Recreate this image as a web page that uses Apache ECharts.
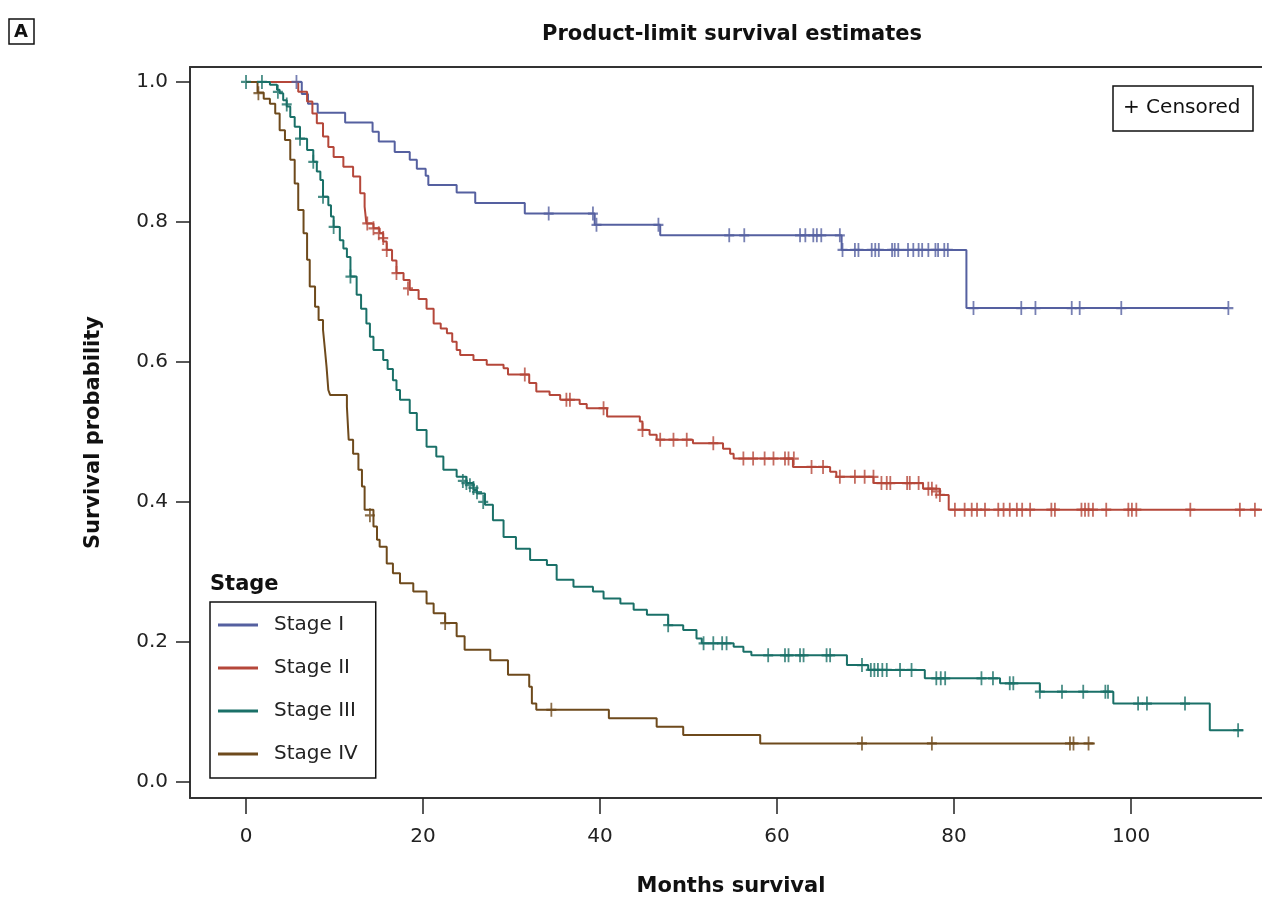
<!DOCTYPE html>
<html>
<head>
<meta charset="utf-8">
<script src="https://cdn.jsdelivr.net/npm/echarts@6/dist/echarts.min.js"></script>
<style>
  html, body { margin: 0; padding: 0; background: #fff; }
  #chart { width: 1262px; height: 897px; }
</style>
</head>
<body>
<div id="chart"></div>
<script>
// step points: [months, survival after the drop]
const stageNames = ['Stage I', 'Stage II', 'Stage III', 'Stage IV'];
const stageColors = ['#5560a0', '#b5473a', '#1a7068', '#6e4a1c'];

const stage1Steps = [[0, 1.0], [6.3, 0.983], [7.0, 0.969], [8.1, 0.956], [11.2, 0.942], [14.3, 0.929], [15.0, 0.915],
  [16.8, 0.900], [18.5, 0.889], [19.3, 0.876], [20.3, 0.866], [20.6, 0.853], [23.8, 0.842], [25.9, 0.827],
  [31.5, 0.812], [39.4, 0.796], [46.8, 0.781], [67.3, 0.760], [81.4, 0.677], [111.0, 0.677]];
const stage1Censored = [[5.7, 1.0], [34.2, 0.812], [39.2, 0.812], [39.6, 0.796], [46.6, 0.796], [54.6, 0.781],
  [56.3, 0.781], [62.6, 0.781], [63.2, 0.781], [64.1, 0.781], [64.5, 0.781], [65.0, 0.781], [67.1, 0.781],
  [67.4, 0.760], [68.8, 0.760], [69.2, 0.760], [70.7, 0.760], [71.1, 0.760], [71.5, 0.760], [73.0, 0.760],
  [73.3, 0.760], [73.7, 0.760], [74.8, 0.760], [75.4, 0.760], [76.0, 0.760], [76.4, 0.760], [77.1, 0.760],
  [77.9, 0.760], [78.2, 0.760], [78.9, 0.760], [79.3, 0.760], [82.2, 0.677], [87.6, 0.677], [89.2, 0.677],
  [93.3, 0.677], [94.2, 0.677], [98.9, 0.677], [111.0, 0.677]];

const stage2Steps = [[0, 1.0], [5.9, 0.986], [6.9, 0.972], [7.5, 0.955], [8.0, 0.941], [8.7, 0.922], [9.3, 0.907],
  [9.9, 0.893], [11.0, 0.879], [12.1, 0.865], [12.9, 0.841], [13.4, 0.822], [13.6, 0.798], [14.4, 0.791],
  [15.1, 0.784], [15.5, 0.772], [15.9, 0.760], [16.5, 0.745], [17.0, 0.727], [17.8, 0.717], [18.5, 0.703],
  [19.5, 0.690], [20.4, 0.676], [21.2, 0.655], [22.0, 0.648], [22.7, 0.641], [23.3, 0.629], [23.8, 0.617],
  [24.2, 0.610], [25.7, 0.603], [27.2, 0.596], [29.1, 0.591], [29.6, 0.582], [32.0, 0.570], [32.8, 0.558],
  [34.3, 0.553], [35.5, 0.546], [37.7, 0.540], [38.5, 0.534], [40.8, 0.522], [44.5, 0.515], [44.8, 0.503],
  [45.6, 0.496], [46.4, 0.489], [50.5, 0.484], [53.9, 0.476], [54.7, 0.469], [55.1, 0.462], [61.8, 0.450],
  [66.0, 0.443], [66.7, 0.436], [70.9, 0.427], [76.5, 0.419], [78.4, 0.410], [79.4, 0.389], [114.8, 0.389]];
const stage2Censored = [[13.7, 0.798], [14.4, 0.791], [15.0, 0.784], [15.5, 0.777], [15.9, 0.760], [17.0, 0.727],
  [18.3, 0.705], [31.5, 0.582], [36.2, 0.546], [36.6, 0.546], [40.4, 0.534], [44.8, 0.503], [46.8, 0.489],
  [48.3, 0.489], [49.8, 0.489], [52.8, 0.484], [56.2, 0.462], [57.3, 0.462], [58.6, 0.462], [59.6, 0.462],
  [60.9, 0.462], [61.3, 0.462], [61.9, 0.462], [63.9, 0.450], [65.2, 0.450], [67.1, 0.436], [68.8, 0.436],
  [69.9, 0.436], [70.9, 0.436], [71.8, 0.427], [72.4, 0.427], [72.8, 0.427], [74.7, 0.427], [75.0, 0.427],
  [76.0, 0.427], [77.1, 0.419], [77.5, 0.419], [78.0, 0.415], [78.4, 0.410], [80.1, 0.389], [81.2, 0.389],
  [82.0, 0.389], [82.6, 0.389], [83.5, 0.389], [85.0, 0.389], [85.6, 0.389], [86.3, 0.389], [87.1, 0.389],
  [87.7, 0.389], [88.6, 0.389], [91.0, 0.389], [91.4, 0.389], [94.4, 0.389], [94.8, 0.389], [95.2, 0.389],
  [95.7, 0.389], [97.2, 0.389], [99.7, 0.389], [100.1, 0.389], [100.6, 0.389], [106.7, 0.389], [112.3, 0.389],
  [114.0, 0.389]];

const stage3Steps = [[0, 1.0], [2.7, 0.996], [3.5, 0.989], [3.8, 0.984], [4.2, 0.974], [4.6, 0.965], [5.0, 0.950],
  [5.5, 0.936], [6.1, 0.919], [6.9, 0.903], [7.6, 0.886], [8.0, 0.872], [8.4, 0.860], [8.7, 0.836], [9.3, 0.824],
  [9.6, 0.808], [9.9, 0.793], [10.6, 0.774], [11.0, 0.762], [11.4, 0.750], [11.8, 0.722], [12.5, 0.696],
  [13.0, 0.676], [13.6, 0.655], [14.0, 0.636], [14.4, 0.617], [15.5, 0.603], [16.0, 0.590], [16.6, 0.574],
  [17.0, 0.560], [17.4, 0.546], [18.5, 0.527], [19.3, 0.503], [20.4, 0.479], [21.5, 0.465], [22.3, 0.446],
  [23.8, 0.436], [24.9, 0.427], [25.7, 0.417], [26.1, 0.412], [27.0, 0.396], [27.9, 0.374], [29.1, 0.350],
  [30.5, 0.333], [32.1, 0.317], [34.0, 0.310], [35.1, 0.289], [37.0, 0.279], [39.2, 0.272], [40.4, 0.262],
  [42.3, 0.255], [43.8, 0.246], [45.3, 0.239], [47.7, 0.224], [49.4, 0.217], [50.9, 0.205], [51.5, 0.198],
  [55.1, 0.193], [56.2, 0.186], [57.1, 0.181], [67.9, 0.167], [70.3, 0.160], [76.7, 0.148], [85.2, 0.141],
  [89.7, 0.129], [98.0, 0.112], [108.9, 0.074], [112.7, 0.074]];
const stage3Censored = [[0, 1.0], [1.8, 1.0], [3.6, 0.986], [4.6, 0.968], [6.1, 0.919], [7.6, 0.886], [8.7, 0.836],
  [9.9, 0.793], [11.8, 0.722], [24.5, 0.430], [24.9, 0.427], [25.3, 0.424], [25.7, 0.420], [26.1, 0.414],
  [26.8, 0.400], [47.7, 0.224], [51.7, 0.198], [52.8, 0.198], [53.8, 0.198], [54.3, 0.198], [59.0, 0.181],
  [60.9, 0.181], [61.3, 0.181], [62.6, 0.181], [63.0, 0.181], [65.6, 0.181], [66.0, 0.181], [69.6, 0.167],
  [70.6, 0.160], [71.0, 0.160], [71.4, 0.160], [71.9, 0.160], [72.4, 0.160], [73.9, 0.160], [75.2, 0.160],
  [78.0, 0.148], [78.5, 0.148], [79.0, 0.148], [83.1, 0.148], [84.4, 0.148], [86.3, 0.141], [86.7, 0.141],
  [89.7, 0.129], [92.2, 0.129], [94.6, 0.129], [97.1, 0.129], [97.4, 0.129], [100.8, 0.112], [101.8, 0.112],
  [106.1, 0.112], [112.1, 0.074]];

const stage4Steps = [[0, 1.0], [1.3, 0.985], [2.0, 0.976], [2.7, 0.969], [3.3, 0.955], [3.8, 0.931], [4.4, 0.917],
  [5.0, 0.889], [5.5, 0.855], [5.9, 0.817], [6.5, 0.784], [6.9, 0.746], [7.2, 0.708], [7.8, 0.679], [8.2, 0.660],
  [8.7, 0.646], [8.9, 0.620], [9.1, 0.593], [9.3, 0.560], [9.5, 0.553], [11.4, 0.536], [11.6, 0.489],
  [12.1, 0.469], [12.7, 0.446], [13.1, 0.422], [13.4, 0.389], [14.4, 0.365], [14.8, 0.346], [15.1, 0.336],
  [15.9, 0.312], [16.6, 0.298], [17.4, 0.284], [18.9, 0.272], [20.4, 0.255], [21.2, 0.241], [22.5, 0.227],
  [23.8, 0.208], [24.7, 0.189], [27.6, 0.174], [29.6, 0.153], [32.0, 0.136], [32.3, 0.112], [32.8, 0.103],
  [41.0, 0.091], [46.4, 0.079], [49.4, 0.067], [58.1, 0.055], [95.9, 0.055]];
const stage4Censored = [[1.4, 0.984], [14.0, 0.381], [22.5, 0.227], [34.5, 0.103], [69.6, 0.055], [77.5, 0.055],
  [93.1, 0.055], [93.5, 0.055], [95.2, 0.055]];

const xTicks = [0, 20, 40, 60, 80, 100];
const yTicks = [0, 0.2, 0.4, 0.6, 0.8, 1.0];

const FONT = '"DejaVu Sans", Verdana, sans-serif';
const plusIcon = 'path://M4.1,0H5.9V4.2H10V5.8H5.9V10H4.1V5.8H0V4.2H4.1Z';
const frameLine = { show: true, onZero: false, lineStyle: { color: '#333', width: 2 } };

const steps = [stage1Steps, stage2Steps, stage3Steps, stage4Steps];
const censored = [stage1Censored, stage2Censored, stage3Censored, stage4Censored];

const series = [];
stageNames.forEach((name, i) => {
  series.push({
    name: name,
    type: 'line',
    step: 'end',
    data: steps[i],
    showSymbol: false,
    lineStyle: { color: stageColors[i], width: 2 },
    itemStyle: { color: stageColors[i] },
    animation: false,
    z: 2
  });
});
stageNames.forEach((name, i) => {
  series.push({
    name: name + ' censored',
    type: 'scatter',
    data: censored[i],
    symbol: plusIcon,
    symbolSize: [10, 14],
    itemStyle: { color: stageColors[i] },
    animation: false,
    z: 3
  });
});

const chart = echarts.init(document.getElementById('chart'));
chart.setOption({
  backgroundColor: '#fff',
  textStyle: { fontFamily: FONT },
  title: {
    text: 'Product-limit survival estimates',
    left: 537,
    top: 19,
    textStyle: { fontFamily: FONT, fontSize: 21, fontWeight: 'bold', color: '#111' }
  },
  grid: {
    left: 190,
    top: 67,
    right: 0,
    bottom: 99,
    show: false,
    containLabel: false,
    outerBoundsMode: 'none'
  },
  legend: {
    data: stageNames,
    orient: 'vertical',
    left: 210,
    top: 602,
    icon: 'rect',
    itemWidth: 40,
    itemHeight: 3,
    itemGap: 23,
    itemTextGap: 16,
    padding: [13, 18, 14, 8],
    borderColor: '#111',
    borderWidth: 1.5,
    textStyle: { fontFamily: FONT, fontSize: 20, color: '#222', padding: [0, 8, 0, 11] }
  },
  xAxis: [{
    type: 'value',
    min: -6.33,
    max: 114.8,
    name: 'Months survival',
    nameLocation: 'middle',
    nameGap: 78,
    nameTextStyle: { fontFamily: FONT, fontSize: 21, fontWeight: 'bold', color: '#111', padding: [0, 0, 0, 10] },
    axisLine: frameLine,
    axisTick: { show: true, length: 16, customValues: xTicks, lineStyle: { color: '#222', width: 1.5 } },
    axisLabel: { customValues: xTicks, margin: 29, fontSize: 20, color: '#222', fontFamily: FONT },
    splitLine: { show: false }
  }, {
    type: 'value',
    position: 'top',
    min: -6.33,
    max: 114.8,
    axisLine: frameLine,
    axisTick: { show: false },
    axisLabel: { show: false },
    splitLine: { show: false }
  }],
  yAxis: {
    type: 'value',
    min: -0.0229,
    max: 1.0214,
    name: 'Survival probability',
    nameLocation: 'middle',
    nameGap: 86,
    nameTextStyle: { fontFamily: FONT, fontSize: 21, fontWeight: 'bold', color: '#111' },
    axisLine: frameLine,
    axisTick: { show: true, length: 14, customValues: yTicks, lineStyle: { color: '#222', width: 1.5 } },
    axisLabel: {
      customValues: yTicks,
      margin: 22,
      fontSize: 20,
      color: '#222',
      fontFamily: FONT,
      formatter: v => v.toFixed(1)
    },
    splitLine: { show: false }
  },
  graphic: [
    {
      type: 'rect',
      shape: { x: 9, y: 19, width: 25, height: 25 },
      style: { fill: '#fff', stroke: '#111', lineWidth: 1.5 }
    },
    {
      type: 'text',
      left: 14,
      top: 23,
      style: { text: 'A', fontFamily: FONT, fontSize: 18, fontWeight: 'bold', fill: '#111' }
    },
    {
      type: 'text',
      left: 210,
      top: 574,
      style: { text: 'Stage', fontFamily: FONT, fontSize: 21, fontWeight: 'bold', fill: '#111' }
    },
    {
      type: 'rect',
      shape: { x: 1113, y: 86, width: 140, height: 45 },
      style: { fill: '#fff', stroke: '#111', lineWidth: 1.5 },
      z: 10
    },
    {
      type: 'text',
      left: 1123,
      top: 98,
      z: 11,
      style: { text: '+ Censored', fontFamily: FONT, fontSize: 20, fill: '#111' }
    }
  ],
  series: series
});
</script>
</body>
</html>
